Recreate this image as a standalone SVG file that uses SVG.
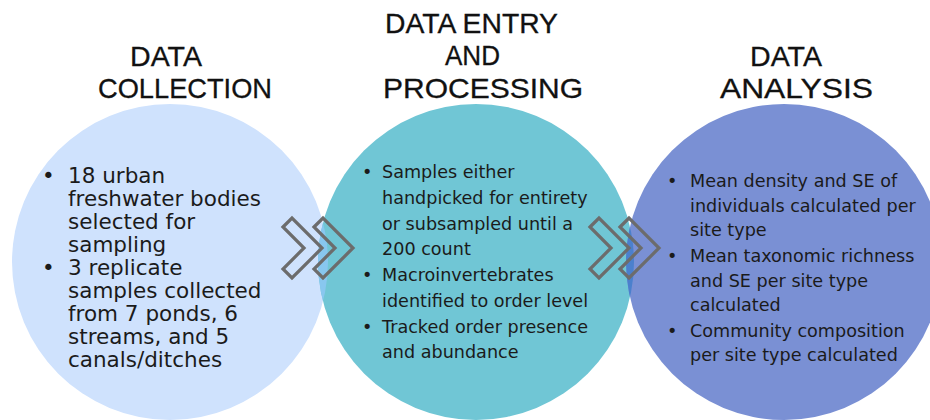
<svg xmlns="http://www.w3.org/2000/svg" width="930" height="420" viewBox="0 0 930 420">
<style>
.title{font-family:"Liberation Sans",Arial,sans-serif;font-size:28px;fill:#111;stroke:#111;stroke-width:0.3}
.body{font-family:"DejaVu Sans",sans-serif;fill:#1b1b1b}
.big{font-size:21.5px}
.small{font-size:17.6px}
.chev{fill:none;stroke:#6c6c6c;stroke-width:3.2;stroke-linejoin:miter}
</style>
<defs>
<clipPath id="clipL"><circle cx="170" cy="262" r="158"/></clipPath>
<clipPath id="clipM"><circle cx="476" cy="262" r="158"/></clipPath>
<polygon id="chevron" points="-9,9 0,0 30,30 0,60 -9,51 12,30"/>
</defs>
<rect width="930" height="420" fill="#fff"/>

<g id="node-collection">
<circle cx="170" cy="262" r="158" fill="#cfe2fd"/>
<text class="title" x="130" y="66" textLength="72" lengthAdjust="spacingAndGlyphs">DATA</text>
<text class="title" x="98" y="98" textLength="174" lengthAdjust="spacingAndGlyphs">COLLECTION</text>
</g>

<g id="node-processing">
<circle cx="476" cy="262" r="158" fill="#70c6d5"/>
<circle cx="476" cy="262" r="158" fill="#88c7ef" clip-path="url(#clipL)"/>
<text class="title" x="385" y="33" textLength="173" lengthAdjust="spacingAndGlyphs">DATA ENTRY</text>
<text class="title" x="445" y="65" textLength="55" lengthAdjust="spacingAndGlyphs">AND</text>
<text class="title" x="383" y="98" textLength="200" lengthAdjust="spacingAndGlyphs">PROCESSING</text>
</g>

<g id="node-analysis">
<circle cx="784" cy="262" r="158" fill="#7a90d4"/>
<circle cx="784" cy="262" r="158" fill="#4b80cd" clip-path="url(#clipM)"/>
<text class="title" x="750" y="66" textLength="72" lengthAdjust="spacingAndGlyphs">DATA</text>
<text class="title" x="720" y="98" textLength="153" lengthAdjust="spacingAndGlyphs">ANALYSIS</text>
</g>

<g id="text-collection" class="body big">
<text x="42" y="183">•</text>
<text x="68" y="183">18 urban</text>
<text x="68" y="206">freshwater bodies</text>
<text x="68" y="229">selected for</text>
<text x="68" y="252">sampling</text>
<text x="42" y="275">•</text>
<text x="68" y="275">3 replicate</text>
<text x="68" y="298">samples collected</text>
<text x="68" y="321">from 7 ponds, 6</text>
<text x="68" y="344">streams, and 5</text>
<text x="68" y="367">canals/ditches</text>
</g>

<g id="text-processing" class="body small">
<text x="362" y="178">•</text>
<text x="382" y="178">Samples either</text>
<text x="382" y="204">handpicked for entirety</text>
<text x="382" y="229.5">or subsampled until a</text>
<text x="382" y="255">200 count</text>
<text x="362" y="281">•</text>
<text x="382" y="281">Macroinvertebrates</text>
<text x="382" y="307">identified to order level</text>
<text x="362" y="333">•</text>
<text x="382" y="333">Tracked order presence</text>
<text x="382" y="358">and abundance</text>
</g>

<g id="text-analysis" class="body small">
<text x="667" y="187">•</text>
<text x="690" y="187">Mean density and SE of</text>
<text x="690" y="211.5">individuals calculated per</text>
<text x="690" y="236">site type</text>
<text x="667" y="261.5">•</text>
<text x="690" y="261.5">Mean taxonomic richness</text>
<text x="690" y="286.5">and SE per site type</text>
<text x="690" y="311">calculated</text>
<text x="667" y="336.5">•</text>
<text x="690" y="336.5">Community composition</text>
<text x="690" y="361">per site type calculated</text>
</g>

<g id="connectors">
<use href="#chevron" class="chev" x="292" y="218"/>
<use href="#chevron" class="chev" x="323" y="218"/>
<use href="#chevron" class="chev" x="599" y="218"/>
<use href="#chevron" class="chev" x="629" y="218"/>
</g>
</svg>
